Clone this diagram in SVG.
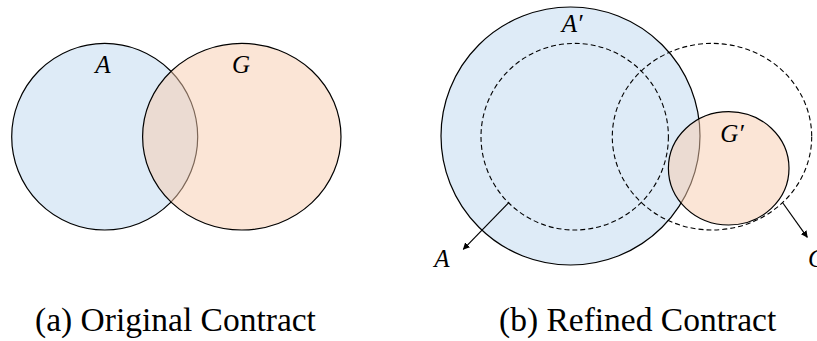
<svg xmlns="http://www.w3.org/2000/svg" width="817" height="341" viewBox="0 0 817 341">
<defs>
<style>
.blue{fill:#DEEBF7;stroke:#000;stroke-width:1.2}
.orange{fill:#F8CBAD;fill-opacity:0.5;stroke:#000;stroke-width:1.2}
.dash{fill:none;stroke:#000;stroke-width:1.1;stroke-dasharray:5,3}
.lbl{font-family:"Liberation Serif",serif;font-style:italic;font-size:25px;fill:#000}
.cap{font-family:"Liberation Serif",serif;font-size:33.5px;fill:#000}
.arr{stroke:#000;stroke-width:1.2;fill:none;marker-end:url(#ah)}
</style>
<marker id="ah" viewBox="0 0 10 10" refX="9" refY="5" markerWidth="7" markerHeight="7" orient="auto" markerUnits="userSpaceOnUse">
<path d="M0,0 L10,5 L0,10 z" fill="#000"/>
</marker>
</defs>
<g id="figA">
<g id="nodeA"><ellipse class="blue" cx="104.7" cy="136.7" rx="93" ry="93.3"/><text class="lbl" x="103" y="73" text-anchor="middle">A</text></g>
<g id="nodeG"><ellipse class="orange" cx="241.8" cy="136.7" rx="99.2" ry="93.3"/><text class="lbl" x="241" y="73" text-anchor="middle">G</text></g>
</g>
<g id="figB">
<g id="nodeAprime"><ellipse class="blue" cx="570.5" cy="136" rx="129.5" ry="129"/><text class="lbl" x="572" y="32" text-anchor="middle">A′</text></g>
<g id="nodeAold"><ellipse class="dash" cx="574.7" cy="136.7" rx="93.7" ry="93.3"/><text class="lbl" x="442" y="267" text-anchor="middle">A</text></g>
<g id="nodeGold"><ellipse class="dash" cx="712" cy="136.7" rx="99.7" ry="93.3"/><text class="lbl" x="808" y="267">G</text></g>
<g id="nodeGprime"><ellipse class="orange" cx="728.7" cy="168.3" rx="60.3" ry="56.7"/><text class="lbl" x="732" y="142" text-anchor="middle">G′</text></g>
</g>
<g id="connectors">
<line class="arr" x1="509" y1="202.3" x2="463.3" y2="249.3"/>
<line class="arr" x1="782.5" y1="202.5" x2="807.3" y2="237.3"/>
</g>
<g id="captions">
<text class="cap" x="35" y="331">(a) Original Contract</text>
<text class="cap" x="499" y="331">(b) Refined Contract</text>
</g>
</svg>
